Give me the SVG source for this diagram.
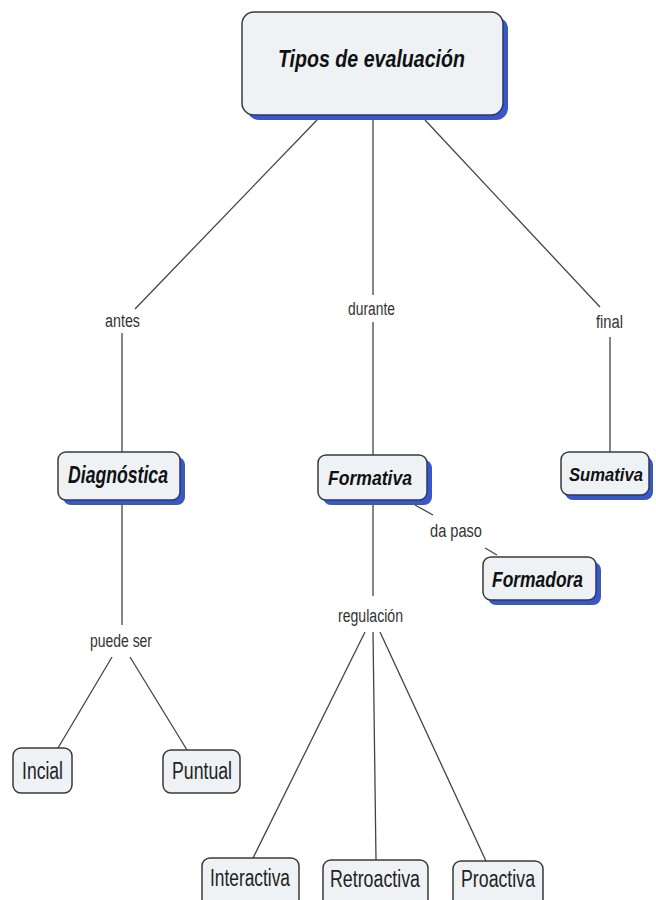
<svg xmlns="http://www.w3.org/2000/svg" width="656" height="900" viewBox="0 0 656 900">
<style>
.box{fill:#eef2f5;stroke:#3a3a3a;stroke-width:1.5}
.sh{fill:#3557d0}
.main{font-family:"Liberation Sans",Arial,sans-serif;font-style:italic;font-weight:bold;fill:#111;text-anchor:start}
.plain{font-family:"Liberation Sans",Arial,sans-serif;fill:#222}
.lbl{font-family:"Liberation Sans",Arial,sans-serif;fill:#333;font-size:18px}
.ln{stroke:#444;stroke-width:1.3;fill:none}
</style>
<rect width="656" height="900" fill="#ffffff"/>
<g id="connectors">
<line class="ln" x1="317" y1="120" x2="135" y2="309"/>
<line class="ln" x1="122" y1="333" x2="122" y2="452"/>
<line class="ln" x1="373" y1="120" x2="373" y2="295"/>
<line class="ln" x1="373" y1="322" x2="373" y2="455"/>
<line class="ln" x1="425" y1="120" x2="600" y2="307"/>
<line class="ln" x1="610" y1="337" x2="610" y2="452"/>
<line class="ln" x1="122" y1="505" x2="122" y2="625"/>
<line class="ln" x1="112" y1="657" x2="58" y2="748"/>
<line class="ln" x1="130" y1="657" x2="187" y2="750"/>
<line class="ln" x1="373" y1="505" x2="373" y2="596"/>
<line class="ln" x1="365" y1="632" x2="253" y2="858"/>
<line class="ln" x1="373" y1="632" x2="376" y2="860"/>
<line class="ln" x1="380" y1="632" x2="486" y2="861"/>
<line class="ln" x1="415" y1="505" x2="433" y2="515"/>
<line class="ln" x1="485" y1="548" x2="497" y2="555"/>
<text class="lbl" x="105" y="327" textLength="35" lengthAdjust="spacingAndGlyphs">antes</text>
<text class="lbl" x="348" y="315" textLength="47" lengthAdjust="spacingAndGlyphs">durante</text>
<text class="lbl" x="596" y="328" textLength="27" lengthAdjust="spacingAndGlyphs">final</text>
<text class="lbl" x="90" y="647" textLength="62" lengthAdjust="spacingAndGlyphs">puede ser</text>
<text class="lbl" x="338" y="622" textLength="65" lengthAdjust="spacingAndGlyphs">regulación</text>
<text class="lbl" x="430" y="537" textLength="52" lengthAdjust="spacingAndGlyphs">da paso</text>
</g>
<g id="tipos">
<rect class="sh" x="247" y="17" width="261" height="103" rx="12"/>
<rect class="box" x="242" y="12" width="261" height="103" rx="12"/>
<text class="main" x="278" y="67" font-size="24" textLength="187" lengthAdjust="spacingAndGlyphs">Tipos de evaluación</text>
</g>
<g id="diagnostica">
<rect class="sh" x="63" y="457" width="122" height="48" rx="8"/>
<rect class="box" x="58" y="452" width="122" height="48" rx="8"/>
<text class="main" x="68" y="483" font-size="23" textLength="100" lengthAdjust="spacingAndGlyphs">Diagnóstica</text>
</g>
<g id="formativa">
<rect class="sh" x="323" y="460" width="109" height="45" rx="8"/>
<rect class="box" x="318" y="455" width="109" height="45" rx="8"/>
<text class="main" x="328" y="485" font-size="21" textLength="84" lengthAdjust="spacingAndGlyphs">Formativa</text>
</g>
<g id="sumativa">
<rect class="sh" x="565" y="457" width="88" height="43" rx="8"/>
<rect class="box" x="561" y="452" width="88" height="43" rx="8"/>
<text class="main" x="569" y="481" font-size="18" textLength="74" lengthAdjust="spacingAndGlyphs">Sumativa</text>
</g>
<g id="formadora">
<rect class="sh" x="488" y="562" width="113" height="43" rx="8"/>
<rect class="box" x="483" y="557" width="113" height="43" rx="8"/>
<text class="main" x="492" y="587" font-size="22" textLength="91" lengthAdjust="spacingAndGlyphs">Formadora</text>
</g>
<g id="incial">
<rect class="box" x="13" y="748" width="59" height="45" rx="8"/>
<text class="plain" x="22" y="779" font-size="23" textLength="41" lengthAdjust="spacingAndGlyphs">Incial</text>
</g>
<g id="puntual">
<rect class="box" x="163" y="750" width="77" height="43" rx="8"/>
<text class="plain" x="172" y="779" font-size="23" textLength="60" lengthAdjust="spacingAndGlyphs">Puntual</text>
</g>
<g id="interactiva">
<rect class="box" x="202" y="858" width="97" height="50" rx="8"/>
<text class="plain" x="210" y="886" font-size="23" textLength="80" lengthAdjust="spacingAndGlyphs">Interactiva</text>
</g>
<g id="retroactiva">
<rect class="box" x="323" y="860" width="105" height="50" rx="8"/>
<text class="plain" x="330" y="887" font-size="23" textLength="90" lengthAdjust="spacingAndGlyphs">Retroactiva</text>
</g>
<g id="proactiva">
<rect class="box" x="453" y="861" width="90" height="50" rx="8"/>
<text class="plain" x="461" y="887" font-size="23" textLength="74" lengthAdjust="spacingAndGlyphs">Proactiva</text>
</g>
</svg>
